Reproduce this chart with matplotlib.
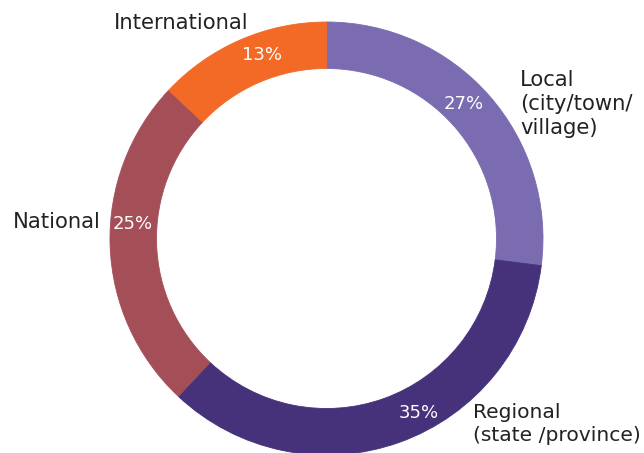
import matplotlib
matplotlib.use("Agg")
import matplotlib.pyplot as plt

# Share of respondents by geographic scope
categories = ["Local\n(city/town/\nvillage)", "Regional\n(state /province)", "National", "International"]
shares = [27, 35, 25, 13]
colors = ["#7B6BB0", "#45327A", "#A44E57", "#F26A25"]

W, H = 644, 453
CX, CY, R = 326.5, 238.5, 216.5   # ring centre and outer radius in pixels
RING = 46.5 / R                   # ring thickness as a fraction of the radius


def px(x, y):
    """Pixel position (from top-left) to data coordinates."""
    return (x - CX) / R, (CY - y) / R


# Text anchors in pixels: (x, y, ha, fontsize)
cat_pos = {
    "Local\n(city/town/\nvillage)": (520, 104, "left", 15.2),
    "Regional\n(state /province)": (473, 424, "left", 14.6),
    "National": (101, 222, "right", 15.2),
    "International": (181, 23, "center", 15.2),
}
pct_pos = {
    "Local\n(city/town/\nvillage)": (464, 104),
    "Regional\n(state /province)": (419, 413),
    "National": (133, 224),
    "International": (262.5, 55.5),
}

fig = plt.figure(figsize=(W / 100, H / 100), dpi=100)
ax = fig.add_axes([0, 0, 1, 1])

ax.pie(shares, colors=colors, startangle=90, counterclock=False, radius=1.0,
       wedgeprops=dict(width=RING, linewidth=0.6, antialiased=True),
       normalize=True)
for w, c in zip(ax.patches, colors):
    w.set_edgecolor(c)

ax.set_xlim(-CX / R, (W - CX) / R)
ax.set_ylim(-(H - CY) / R, CY / R)
ax.set_aspect("auto")
ax.axis("off")

for cat, val in zip(categories, shares):
    x, y, ha, fs = cat_pos[cat]
    ax.text(*px(x, y), cat, ha=ha, va="center", fontsize=fs,
            color="#222222", linespacing=1.25, family="DejaVu Sans")
    ax.text(*px(*pct_pos[cat]), f"{val}%", ha="center", va="center",
            fontsize=13, color="white", family="DejaVu Sans")

fig.savefig("out.png", dpi=100, facecolor="white")
